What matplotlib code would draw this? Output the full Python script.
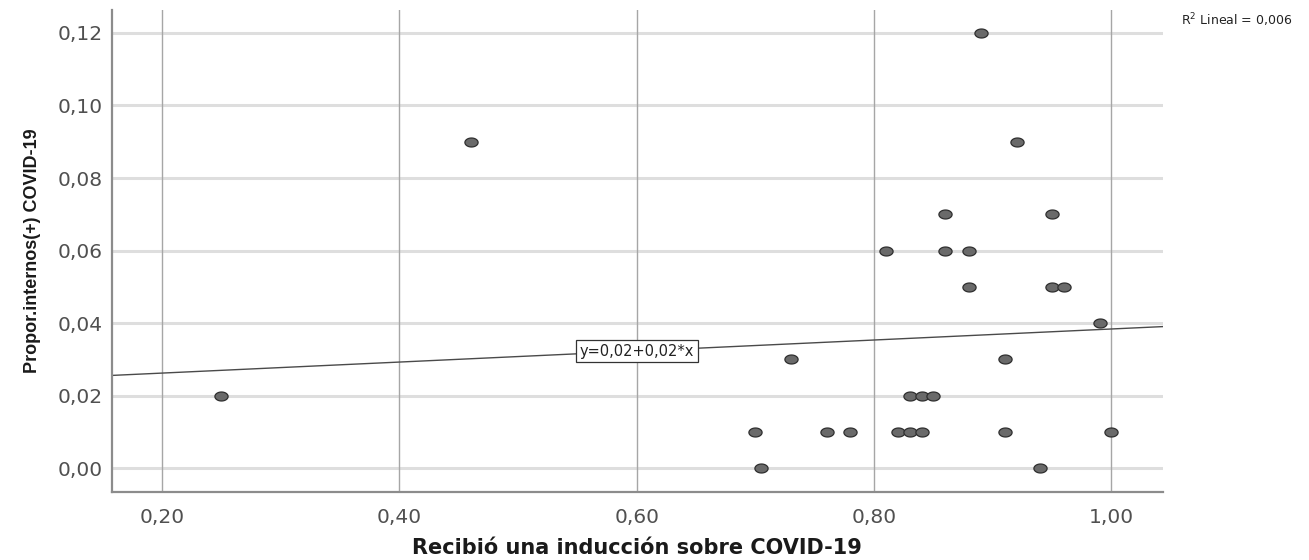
import numpy as np
import matplotlib
matplotlib.use('Agg')
import matplotlib.pyplot as plt
from matplotlib.path import Path
from matplotlib.ticker import FuncFormatter

# proportion who received a COVID-19 induction vs proportion of positive inmates
induccion = [0.25, 0.46,
             0.70, 0.76, 0.78, 0.82, 0.83, 0.84, 0.91, 1.00,
             0.83, 0.84, 0.85,
             0.705, 0.94,
             0.73, 0.91,
             0.99,
             0.88, 0.95, 0.96,
             0.81, 0.86, 0.88,
             0.86, 0.95,
             0.92, 0.89]
positivos = [0.02, 0.09,
             0.01, 0.01, 0.01, 0.01, 0.01, 0.01, 0.01, 0.01,
             0.02, 0.02, 0.02,
             0.00, 0.00,
             0.03, 0.03,
             0.04,
             0.05, 0.05, 0.05,
             0.06, 0.06, 0.06,
             0.07, 0.07,
             0.09, 0.12]

# linear fit as reported
fit_intercept = 0.0232
fit_slope = 0.0152
r2_lineal = 0.006

x_ticks = [0.2, 0.4, 0.6, 0.8, 1.0]
y_ticks = [0.0, 0.02, 0.04, 0.06, 0.08, 0.10, 0.12]


def coma(v, pos=None):
    return f'{v:.2f}'.replace('.', ',')


fig = plt.figure(figsize=(13.09, 5.6), dpi=100)
ax = fig.add_axes([0.0856, 0.121, 0.8025, 0.861])

xmin, xmax = 0.158, 1.043
ax.set_xlim(xmin, xmax)
ax.set_ylim(-0.0066, 0.1263)

# grid: light thick horizontals, thin darker verticals
for yt in y_ticks:
    ax.axhline(yt, color='#dedede', lw=2.2, zorder=0)
for xt in x_ticks:
    ax.axvline(xt, color='#a6a6a6', lw=1.0, zorder=0)

# fit line
xs = np.array([xmin, xmax])
ax.plot(xs, fit_intercept + fit_slope * xs, color='#4a4a4a', lw=1.0, zorder=2)

# ellipse shaped markers
t = np.linspace(0, 2 * np.pi, 60)
ell = Path(np.column_stack([np.cos(t), 0.68 * np.sin(t)]), closed=True)
ax.scatter(induccion, positivos, marker=ell, s=90, facecolor='#6a6a6a',
           edgecolor='#2e2e2e', linewidths=0.9, zorder=3)

eq = f'y={fit_intercept:.2f}+{fit_slope:.2f}*x'.replace('.', ',')
ax.text(0.6, fit_intercept + fit_slope * 0.6, eq, ha='center', va='center',
        fontsize=10.5, color='#222222', zorder=4,
        bbox=dict(boxstyle='square,pad=0.25', fc='white', ec='#333333', lw=0.9))

ax.set_xticks(x_ticks)
ax.set_yticks(y_ticks)
ax.xaxis.set_major_formatter(FuncFormatter(coma))
ax.yaxis.set_major_formatter(FuncFormatter(coma))
ax.tick_params(length=0, labelsize=14.5, labelcolor='#505050')
ax.tick_params(axis='y', pad=7)
ax.tick_params(axis='x', pad=11)

for side in ['top', 'right']:
    ax.spines[side].set_visible(False)
for side in ['left', 'bottom']:
    ax.spines[side].set_color('#8c8c8c')
    ax.spines[side].set_linewidth(1.6)

ax.set_xlabel('Recibió una inducción sobre COVID-19', fontsize=15,
              fontweight='bold', color='#1a1a1a', labelpad=8)
ax.set_ylabel('Propor.internos(+) COVID-19', fontsize=13, fontweight='bold',
              family=['Liberation Sans Narrow', 'Liberation Sans', 'DejaVu Sans'],
              color='#1a1a1a', labelpad=12)

fig.text(0.945, 0.964, f'R$^2$ Lineal = {r2_lineal:.3f}'.replace('.', ','),
         ha='center', va='center', fontsize=9, color='#222222')

fig.savefig('out.png', dpi=100)
